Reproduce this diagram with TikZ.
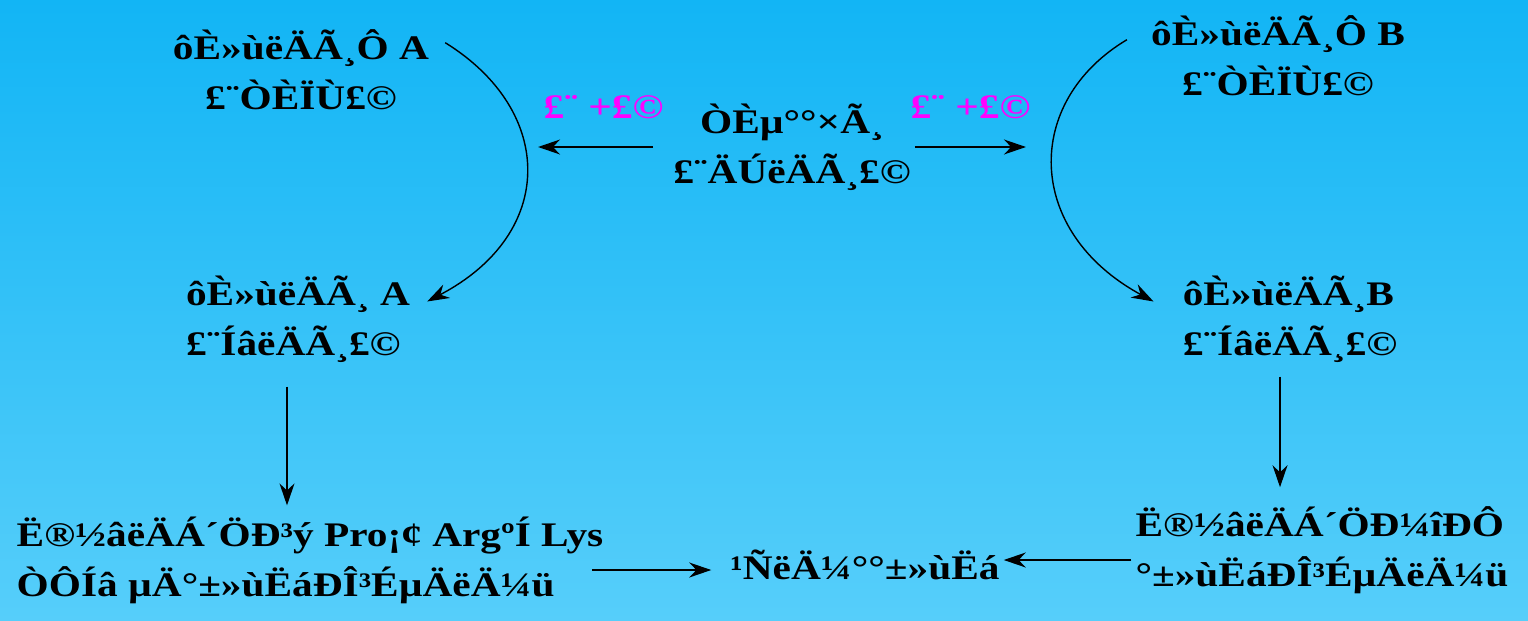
\documentclass[tikz,border=0pt]{standalone}
\usepackage{fontspec}
\setmainfont{Liberation Serif}[FakeStretch=1.2]
\definecolor{bgtop}{RGB}{18,181,245}
\definecolor{bgbottom}{RGB}{86,206,250}
\definecolor{lblmagenta}{RGB}{255,0,255}
\usetikzlibrary{arrows.meta,positioning}

\begin{document}
\begin{tikzpicture}[
  txt/.style={font=\fontsize{9.8pt}{14.2pt}\selectfont\bfseries, inner sep=1pt},
  lbl/.style={txt, text=lblmagenta},
  arr/.style={-{Stealth[length=2.2mm, width=1.5mm]}, line width=0.4pt, black}]
  \useasboundingbox (0,0) rectangle (15.28,6.20);
  \shade[top color=bgtop, bottom color=bgbottom] (0,0) rectangle (15.28,6.20);
  \node[txt, align=center] (proA) at (3.01,5.50) {ôÈ»ùëÄÃ¸Ô A\\£¨ÒÈÏÙ£©};
  \node[txt, align=center] (proB) at (12.78,5.64) {ôÈ»ùëÄÃ¸Ô B\\£¨ÒÈÏÙ£©};
  \node[txt, align=center] (tryp) at (7.92,4.73) {ÒÈµ°°×Ã¸\\£¨ÄÚëÄÃ¸£©};
  \node[txt, align=left] (cpA) at (2.98,3.01) {ôÈ»ùëÄÃ¸ A\\£¨ÍâëÄÃ¸£©};
  \node[txt, align=left] (cpB) at (12.90,3.01) {ôÈ»ùëÄÃ¸B\\£¨ÍâëÄÃ¸£©};
  \node[txt, align=left] (hydL) at (3.10,0.60) {Ë®½âëÄÁ´ÖÐ³ý Pro¡¢ ArgºÍ Lys\\ÒÔÍâ µÄ°±»ùËáÐÎ³ÉµÄëÄ¼ü};
  \node[txt, align=left] (hydR) at (13.22,0.70) {Ë®½âëÄÁ´ÖÐ¼îÐÔ\\°±»ùËáÐÎ³ÉµÄëÄ¼ü};
  \node[txt] (prod) at (8.65,0.55) {¹ÑëÄ¼°°±»ùËá};
  \coordinate[left=1.31cm of tryp.west] (tipL);
  \coordinate[right=1.11cm of tryp.east] (tipR);
  \draw[arr, shorten <=1.6mm] (tryp.west) -- (tipL) node[lbl, midway, above=2.4mm] (plusL) {£¨ +£©};
  \draw[arr] (tryp.east) -- (tipR) node[lbl, midway, above=2.4mm] (plusR) {£¨ +£©};
  \draw[arr] ([shift={(1.2mm,-1.7mm)}]proA.north east) .. controls +(1.1,-0.68) and +(1.3,0.68) .. ([shift={(1.3mm,-3mm)}]cpA.north east);
  \draw[arr] ([shift={(-2mm,-2.8mm)}]proB.north west) .. controls +(-1.04,-0.62) and +(-1.29,0.70) .. ([shift={(-2.5mm,-3mm)}]cpB.north west);
  \draw[arr, shorten <=2mm, shorten >=0.7mm] ([xshift=-1.1mm]cpA.south) -- ([xshift=-1.1mm]cpA.south |- hydL.north);
  \draw[arr, shorten <=1mm, shorten >=1.5mm] ([xshift=-1mm]cpB.south) -- ([xshift=-1mm]cpB.south |- hydR.north);
  \draw[arr, shorten <=-1.5mm, shorten >=1.5mm] ([yshift=-0.5mm]hydL.east |- prod.west) -- ([yshift=-0.5mm]prod.west);
  \draw[arr] ([yshift=0.5mm]hydR.west |- prod.east) -- ([yshift=0.5mm]prod.east);
\end{tikzpicture}
\end{document}
